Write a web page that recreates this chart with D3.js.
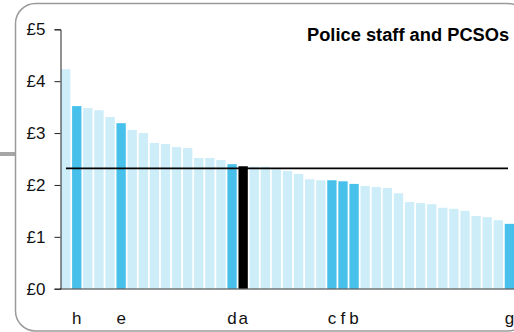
<!DOCTYPE html>
<html><head><meta charset="utf-8">
<script src="https://cdn.jsdelivr.net/npm/d3@7"></script>
<style>body{margin:0;background:#fff}svg{display:block;font-family:Arial,"Liberation Sans",sans-serif}</style>
</head><body>
<script>
const values = [4.23,3.52,3.48,3.44,3.31,3.19,3.06,3.00,2.81,2.79,2.73,2.71,2.52,2.52,2.48,2.40,2.36,2.35,2.35,2.30,2.27,2.21,2.11,2.09,2.09,2.07,2.02,1.98,1.96,1.94,1.84,1.67,1.65,1.63,1.56,1.54,1.50,1.40,1.38,1.32,1.25];
const labels = ["","h","","","","e","","","","","","","","","","d","a","","","","","","","","c","f","b","","","","","","","","","","","","","","g"];
const kinds  = ["o","h","o","o","o","h","o","o","o","o","o","o","o","o","o","h","k","o","o","o","o","o","o","o","h","h","h","o","o","o","o","o","o","o","o","o","o","o","o","o","h"];
const average = 2.32;
const yTicks = [0,1,2,3,4,5];
const title = "Police staff and PCSOs";

const W=514,H=332;
const svg=d3.select("body").append("svg").attr("width",W).attr("height",H);
const colors={o:"#cdedf9",h:"#47c1eb",k:"#000000"};

// frame
svg.append("rect").attr("x",0).attr("y",152).attr("width",16).attr("height",4).attr("fill","#a6a6a6");
svg.append("rect").attr("x",15.5).attr("y",3.5).attr("width",512).attr("height",327.5).attr("rx",20).attr("ry",20)
  .attr("fill","#fff").attr("stroke","#9a9a9a").attr("stroke-width",1.5);

const x=d3.scaleBand().domain(d3.range(values.length)).range([61,61+41*11.05]).paddingInner(0.16).paddingOuter(0);
const y=d3.scaleLinear().domain([0,5]).range([288.7,29.3]);

svg.append("g").selectAll("rect").data(values).join("rect")
  .attr("x",(d,i)=>x(i)).attr("width",x.bandwidth())
  .attr("y",d=>y(d)).attr("height",d=>y(0)-y(d))
  .attr("fill",(d,i)=>colors[kinds[i]]);

// x axis line
svg.append("line").attr("x1",60).attr("x2",W).attr("y1",289).attr("y2",289).attr("stroke","#333").attr("stroke-width",1.2);

// y axis
const ya=svg.append("g").attr("transform","translate(60.5,0)")
  .call(d3.axisLeft(y).tickValues(yTicks).tickFormat(d=>"£"+d).tickSize(6).tickPadding(9));
ya.select(".domain").attr("stroke","#222");
ya.selectAll(".tick line").attr("stroke","#222");
ya.selectAll("text").attr("font-size",17).attr("fill","#111").attr("font-family","Arial,'Liberation Sans',sans-serif");

// average line
svg.append("line").attr("x1",66).attr("x2",508).attr("y1",y(average)).attr("y2",y(average))
  .attr("stroke","#000").attr("stroke-width",1.6);

// category labels
svg.append("g").selectAll("text").data(labels).join("text")
  .attr("x",(d,i)=>x(i)+x.bandwidth()/2).attr("y",324)
  .attr("text-anchor","middle").attr("font-size",17).attr("fill","#111").text(d=>d);

svg.append("text").attr("x",307).attr("y",41).attr("font-size",18.3).attr("font-weight","bold").attr("fill","#000").text(title);
</script>
</body></html>
